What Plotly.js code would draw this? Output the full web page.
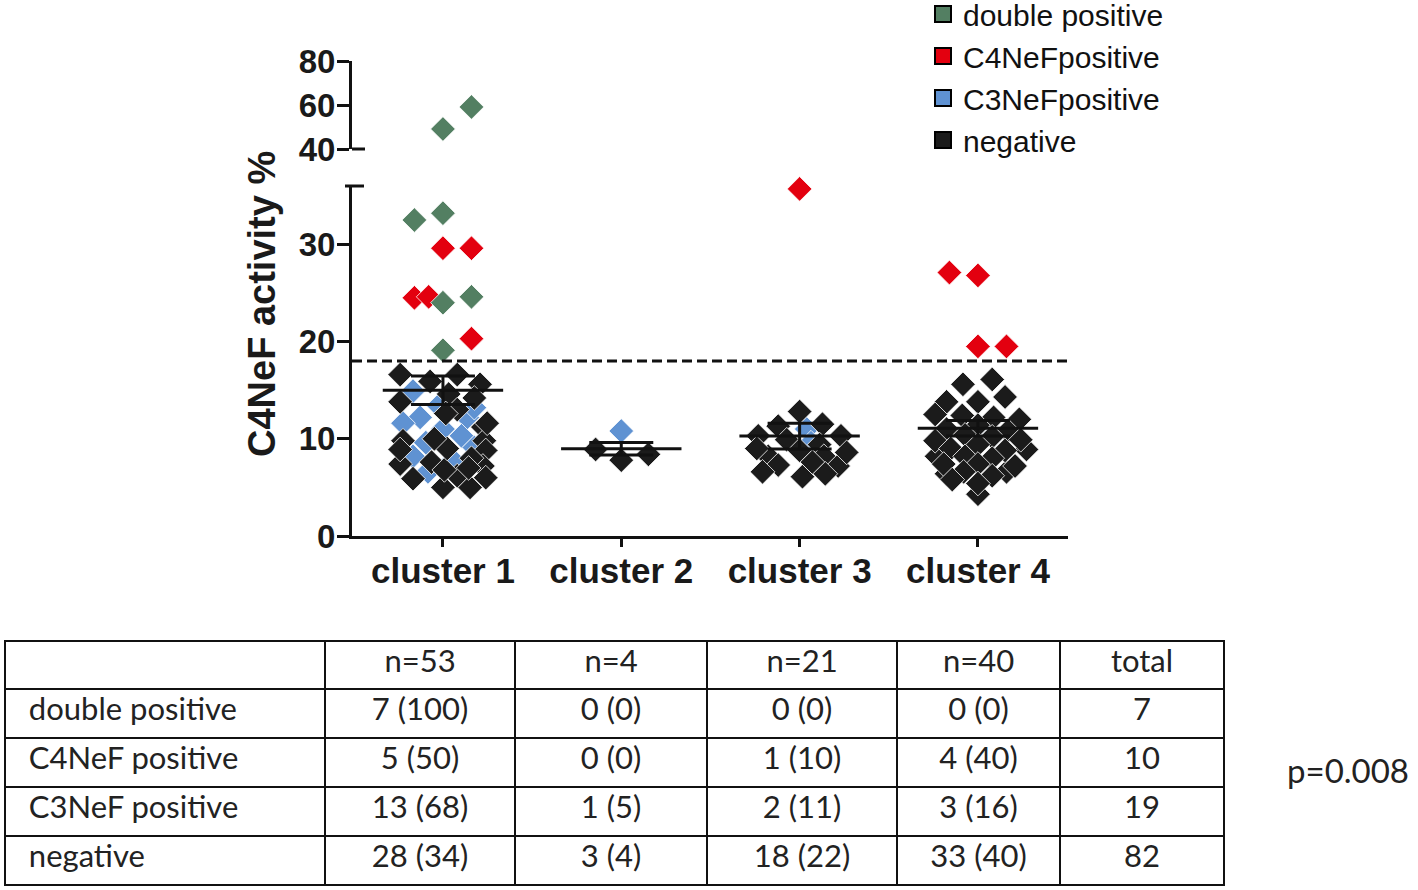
<!DOCTYPE html>
<html>
<head>
<meta charset="utf-8">
<script src="https://cdn.plot.ly/plotly-3.0.1.min.js"></script>
<style>
html,body{margin:0;padding:0;background:#ffffff;overflow:hidden;}
#chart{width:1418px;height:902px;margin-top:-12px;}
</style>
</head>
<body>
<div id="chart"></div>
<script>
// ---------------- data ----------------
const clusters = ['cluster 1', 'cluster 2', 'cluster 3', 'cluster 4'];
const seriesNames = ['double positive', 'C4NeFpositive', 'C3NeFpositive', 'negative'];
const cutoff = 18;                 // dashed positivity threshold (%)
const yTicksLower = [0, 10, 20, 30];
const yTicksUpper = [40, 60, 80];

// double positive
const dblCluster = [0, 0, 0, 0, 0, 0, 0];
const dblValue   = [59.1, 49.1, 33.2, 32.5, 24.6, 24.0, 19.1];
const dblSlot    = [2, 0, 0, -2, 2, 0, 0];

// C4NeF positive
const c4Cluster = [0, 0, 0, 0, 0, 2, 3, 3, 3, 3];
const c4Value   = [29.6, 29.6, 24.5, 24.6, 20.3, 35.7, 27.1, 26.8, 19.5, 19.5];
const c4Slot    = [0, 2, -2, -1, 2, 0, -2, 0, 0, 2];

// C3NeF positive
const c3Cluster = [0,0,0,0,0,0,0,0,0,0,0,0,0, 1, 2,2, 3,3,3];
const c3Value   = [14.9,12.2,12.2,11.0,8.2,6.6,13.4,13.2,10.3,9.1,9.6,7.8,11.6, 10.8, 11.0,9.6, 11.4,10.2,9.0];
const c3Slot    = [-2.1,-1.6,1.7,0,-2.1,-1.05,-0.3,2.2,1.3,2.2,-1.2,0.7,-2.8, 0, 0.5,0.8, 0,1.0,-1.9];

// negative
const negCluster = [
  0,0,0,0,0,0,0,0,0,0,0,0,0,0,0,0,0,0,0,0,0,0,0,0,0,0,0,0,
  1,1,1,
  2,2,2,2,2,2,2,2,2,2,2,2,2,2,2,2,2,2,
  3,3,3,3,3,3,3,3,3,3,3,3,3,3,3,3,3,3,3,3,3,3,3,3,3,3,3,3,3,3,3,3,3
];
const negValue = [
  16.6,16.6,15.9,15.6,14.6,14.2,13.8, 11.2,9.8,9.8,13.0,11.6,8.8,
  7.4,5.9,5.0,5.0,7.2,6.2,7.6,8.0,6.0,8.9,7.0,6.8, 9.0,10.0,12.6,
  8.9,7.8,8.4,
  12.8,11.3,11.5,10.3,10.3,9.9,9.4,8.8,8.2,8.2,7.2,7.3,6.1,7.6,9.0,8.6,6.6,6.4,
  16.1,15.6,14.3,13.8,13.8,12.5,12.0,4.3,6.4,6.6,8.2,8.9,
  12.4,12.2,11.4,11.0,10.8,10.4,10.2,9.8,9.9,9.4,9.0,8.8,8.2,8.0,7.4,7.4,7.2,6.6,6.2,5.4,5.8
];
const negSlot = [
  -3,1,-0.9,2.6,0.4,2.2,-3, 2.8,-2.8,2.9,1.0,3.1,3.0,
  -3,-2.1,0,1.9,2.8,1.0,-0.8,2.0,3.0,-3.0,1.8,0.1, 0.3,-0.6,0.2,
  -1.8,0,1.9,
  0,-1.5,1.6,-2.9,2.9,-0.9,1.4,0,-2.2,1.7,2.7,-1.5,0.2,0.9,-3.0,3.3,-2.6,1.8,
  1.0,-1.05,1.9,-2.2,0,-3,2.9,0,-2.2,2.0,-2.9,3.4,
  -1.1,1.1,0,-2.2,2.1,-0.9,1.0,-3.0,3.0,0,-1.9,1.9,-0.9,1.0,-2.4,0,2.6,-1.0,1.0,0,-1.8
];

// table below the chart
const tableHeader = ['', 'n=53', 'n=4', 'n=21', 'n=40', 'total'];
const tableRows   = ['double positive', 'C4NeF positive', 'C3NeF positive', 'negative'];
const countC1 = [7, 5, 13, 28];   const pctC1 = [100, 50, 68, 34];
const countC2 = [0, 0, 1, 3];     const pctC2 = [0, 0, 5, 4];
const countC3 = [0, 1, 2, 18];    const pctC3 = [0, 10, 11, 22];
const countC4 = [0, 4, 3, 33];    const pctC4 = [0, 40, 16, 40];
const rowTotals = [7, 10, 19, 82];
const pValueText = 'p=0.008';

// ---------------- styling ----------------
const colors = {dbl: '#537f62', c4: '#e3000f', c3: '#5f92d2', neg: '#1b1b1b'};
const slotWidth = 0.08;      // horizontal spacing of scattered points (x units)
const axisBreak = 38;        // values above go to the upper axis segment
const W = 1418, OFFSET = 12, H = 890 + OFFSET;   // paper starts 12px above the view
const px = v => v / W, py = v => (H - (v + OFFSET)) / H;
const boldFont = {family: 'Liberation Sans, Arial, sans-serif', weight: 'bold', color: '#1a1a1a'};
const AX = '#111111';

function pointTrace(cl, val, sl, color, upper) {
  const x = [], y = [];
  for (let i = 0; i < val.length; i++) {
    if ((val[i] > axisBreak) === upper) {
      x.push(cl[i] + sl[i] * slotWidth);
      y.push(val[i]);
    }
  }
  return {
    type: 'scatter', mode: 'markers', x: x, y: y,
    xaxis: 'x', yaxis: upper ? 'y2' : 'y', cliponaxis: false,
    marker: {symbol: 'diamond', size: 19, color: color, line: {color: '#ffffff', width: 0.8}},
    showlegend: false, hoverinfo: 'skip'
  };
}

function legendTrace(name, color, rank) {
  return {
    type: 'scatter', mode: 'markers', x: [null], y: [null], name: name,
    xaxis: 'x', yaxis: 'y', legendrank: rank,
    marker: {symbol: 'square', size: 16, color: color, line: {color: '#000', width: 2}},
    hoverinfo: 'skip'
  };
}

// mean +/- SEM per cluster from all points
const allCl = [].concat(dblCluster, c4Cluster, c3Cluster, negCluster);
const allVal = [].concat(dblValue, c4Value, c3Value, negValue);
const means = [], sems = [];
clusters.forEach((c, k) => {
  const v = allVal.filter((_, i) => allCl[i] === k);
  const m = v.reduce((a, b) => a + b, 0) / v.length;
  const sd = Math.sqrt(v.reduce((a, b) => a + (b - m) * (b - m), 0) / (v.length - 1));
  means.push(m); sems.push(sd / Math.sqrt(v.length));
});

const traces = [
  pointTrace(c3Cluster, c3Value, c3Slot, colors.c3, false),
  pointTrace(negCluster, negValue, negSlot, colors.neg, false),
  pointTrace(c4Cluster, c4Value, c4Slot, colors.c4, false),
  pointTrace(dblCluster, dblValue, dblSlot, colors.dbl, false),
  pointTrace(dblCluster, dblValue, dblSlot, colors.dbl, true),
  {
    type: 'scatter', mode: 'markers', x: clusters.map((_, i) => i), y: means,
    xaxis: 'x', yaxis: 'y', cliponaxis: false,
    marker: {symbol: 'line-ew-open', size: 86, color: AX, line: {color: AX, width: 3}},
    error_y: {type: 'data', array: sems, visible: true, color: AX, thickness: 3, width: 32},
    showlegend: false, hoverinfo: 'skip'
  },
  legendTrace(seriesNames[0], colors.dbl, 1),
  legendTrace(seriesNames[1], colors.c4, 2),
  legendTrace(seriesNames[2], colors.c3, 3),
  legendTrace(seriesNames[3], colors.neg, 4)
];

// table
const fmt = (c, p) => c.map((v, i) => v + ' (' + p[i] + ')');
const pad = s => '\u00a0\u00a0' + s;
const tableFont = {family: 'Lato, Open Sans, sans-serif', size: 31, color: '#222'};
traces.push({
  type: 'table',
  domain: {x: [px(5), px(1224)], y: [py(886), py(641)]},
  columnwidth: [320, 190, 192, 190, 163, 164],
  header: {
    values: tableHeader, height: 48,
    align: ['left', 'center', 'center', 'center', 'center', 'center'],
    line: {color: '#111', width: 2}, fill: {color: '#ffffff'}, font: tableFont
  },
  cells: {
    values: [tableRows.map(pad), fmt(countC1, pctC1), fmt(countC2, pctC2), fmt(countC3, pctC3), fmt(countC4, pctC4), rowTotals],
    height: 49,
    align: ['left', 'center', 'center', 'center', 'center', 'center'],
    line: {color: '#111', width: 2}, fill: {color: '#ffffff'}, font: tableFont
  }
});

const axisCommon = {
  showline: true, linewidth: 3, linecolor: AX, mirror: false,
  ticks: 'outside', tickwidth: 3, tickcolor: AX,
  showgrid: false, zeroline: false, fixedrange: true
};

const layout = {
  width: W, height: H,
  margin: {l: 0, r: 0, t: 0, b: 0},
  paper_bgcolor: '#ffffff', plot_bgcolor: 'rgba(0,0,0,0)',
  font: {family: 'Liberation Sans, Arial, sans-serif', color: '#1a1a1a'},
  showlegend: true,
  legend: {
    x: px(923), y: 1, xanchor: 'left', yanchor: 'top',
    font: {family: 'Liberation Sans, Arial, sans-serif', size: 30, color: '#111'},
    bgcolor: 'rgba(0,0,0,0)', borderwidth: 0, traceorder: 'normal', itemclick: false
  },
  xaxis: Object.assign({}, axisCommon, {
    domain: [px(352), px(1068)], range: [-0.51, 3.505], anchor: 'y',
    tickvals: clusters.map((_, i) => i), ticktext: clusters, ticklen: 8,
    ticklabelstandoff: -6,
    tickfont: Object.assign({size: 35}, boldFont)
  }),
  yaxis: Object.assign({}, axisCommon, {
    domain: [py(536), py(186)], range: [0, 36.0], anchor: 'x',
    tickvals: yTicksLower, ticktext: yTicksLower.map(String), ticklen: 12,
    ticklabelstandoff: -5,
    tickfont: Object.assign({size: 33}, boldFont)
  }),
  yaxis2: Object.assign({}, axisCommon, {
    domain: [py(149), py(61)], range: [40, 80], anchor: 'x',
    tickvals: yTicksUpper, ticktext: yTicksUpper.map(String), ticklen: 12,
    ticklabelstandoff: -5,
    tickfont: Object.assign({size: 33}, boldFont)
  }),
  shapes: [
    {type: 'line', xref: 'x domain', yref: 'y', x0: 0, x1: 1, y0: cutoff, y1: cutoff,
     line: {color: AX, width: 3, dash: '10px,5px'}},
    {type: 'line', xref: 'paper', yref: 'y domain', x0: px(345), x1: px(364), y0: 1, y1: 1,
     line: {color: AX, width: 3}},
    {type: 'line', xref: 'paper', yref: 'y2 domain', x0: px(352), x1: px(365), y0: 0, y1: 0,
     line: {color: AX, width: 3}}
  ],
  annotations: [
    {text: 'C4NeF activity %', xref: 'paper', yref: 'paper', x: px(262), y: py(304),
     xanchor: 'center', yanchor: 'middle', textangle: -90, showarrow: false,
     font: Object.assign({size: 38}, boldFont)},
    {text: pValueText, xref: 'paper', yref: 'paper', x: px(1348), y: py(770),
     xanchor: 'center', yanchor: 'middle', showarrow: false,
     font: {family: 'Lato, Open Sans, sans-serif', size: 33, color: '#222'}}
  ]
};

Plotly.newPlot('chart', traces, layout, {displayModeBar: false, staticPlot: true});
</script>
</body>
</html>
